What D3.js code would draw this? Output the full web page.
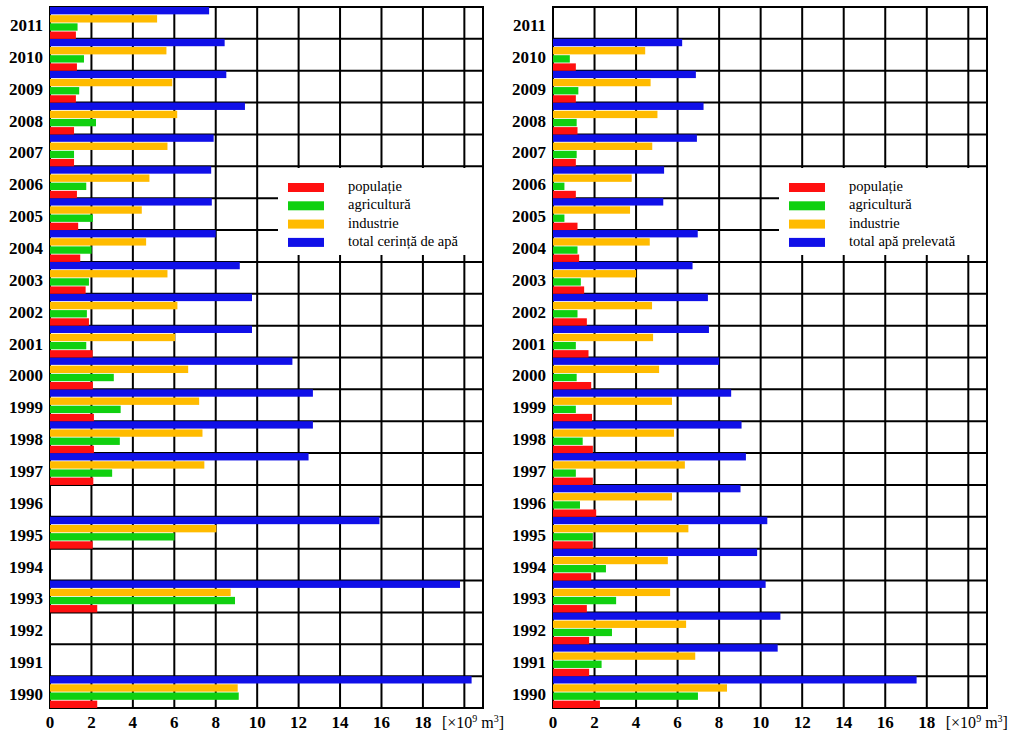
<html>
<head>
<meta charset="utf-8">
<script src="https://cdn.jsdelivr.net/npm/d3@7"></script>
<style>
body { margin: 0; background: #fff; }
svg text { font-family: "Liberation Serif", "Times New Roman", serif; }
</style>
</head>
<body>
<div id="chart"></div>
<script>
// years, bottom (1990) to top (2011)
var years = [1990,1991,1992,1993,1994,1995,1996,1997,1998,1999,2000,
             2001,2002,2003,2004,2005,2006,2007,2008,2009,2010,2011];

// cerinta de apa [x10^9 m3]
var demPop = [2.28,null,null,2.28,null,2.06,null,2.09,2.12,2.12,2.07,
              2.06,1.88,1.72,1.46,1.36,1.30,1.16,1.16,1.25,1.30,1.25];
var demAgr = [9.11,null,null,8.93,null,6.01,null,3.00,3.37,3.41,3.08,
              1.75,1.78,1.88,2.01,2.07,1.75,1.16,2.22,1.41,1.64,1.33];
var demInd = [9.06,null,null,8.72,null,8.03,null,7.45,7.36,7.20,6.67,
              6.04,6.15,5.67,4.64,4.43,4.80,5.67,6.14,5.90,5.62,5.17];
var demTot = [20.35,null,null,19.79,null,15.90,null,12.48,12.69,12.69,11.70,
              9.75,9.75,9.16,8.00,7.81,7.78,7.90,9.41,8.51,8.43,7.68];

// apa prelevata [x10^9 m3]
var absPop = [2.26,1.74,1.74,1.63,1.84,1.92,2.08,1.92,1.92,1.88,1.84,
              1.71,1.63,1.50,1.26,1.18,1.10,1.10,1.18,1.10,1.10,null];
var absAgr = [6.98,2.34,2.84,3.04,2.55,1.92,1.30,1.10,1.43,1.10,1.14,
              1.10,1.18,1.34,1.18,0.55,0.55,1.14,1.14,1.22,0.81,null];
var absInd = [8.38,6.85,6.41,5.64,5.53,6.52,5.73,6.35,5.83,5.73,5.11,
              4.82,4.77,4.00,4.66,3.71,3.79,4.78,5.03,4.70,4.44,null];
var absTot = [17.51,10.82,10.95,10.24,9.83,10.32,9.03,9.29,9.08,8.58,8.00,
              7.51,7.46,6.72,6.97,5.31,5.35,6.93,7.25,6.88,6.22,null];

var ticks = [0,2,4,6,8,10,12,14,16,18];
var gridTicks = [2,4,6,8,10,12,14,16,18,20];

var keys = ["tot", "ind", "agr", "pop"]; // order within a row, top to bottom
var colors = {pop: "#ff1010", agr: "#10d010", ind: "#ffbb00", tot: "#1010e8"};
var legendKeys = ["pop", "agr", "ind", "tot"];
var demLabels = {pop: "populație", agr: "agricultură", ind: "industrie", tot: "total cerință de apă"};
var absLabels = {pop: "populație", agr: "agricultură", ind: "industrie", tot: "total apă prelevată"};

var W = 1009, H = 735;
var svg = d3.select("#chart").append("svg").attr("width", W).attr("height", H);

var yTop = 7, yBot = 708;

function panel(left, right, series, labels, legBox) {
	var g = svg.append("g");
	var x = d3.scaleLinear().domain([0, 20.9]).range([left, right]);
	var y = d3.scaleBand().domain(years.slice().reverse()).range([yTop, yBot]);
	var yi = d3.scaleBand().domain(keys).range([0, y.bandwidth()]).paddingInner(0.1);

	var rows = years.map(function(yr, i) {
		return {year: yr, pop: series.pop[i], agr: series.agr[i], ind: series.ind[i], tot: series.tot[i]};
	});

	// grid
	g.selectAll("line.v").data(gridTicks).enter().append("line")
		.attr("x1", function(d){return x(d);}).attr("x2", function(d){return x(d);})
		.attr("y1", yTop).attr("y2", yBot)
		.style("stroke", "#000").style("stroke-width", 2);
	g.selectAll("line.h").data(years).enter().append("line")
		.attr("x1", left).attr("x2", right)
		.attr("y1", function(d){return y(d);}).attr("y2", function(d){return y(d);})
		.style("stroke", "#000").style("stroke-width", 2);
	g.append("rect").attr("x", left).attr("y", yTop)
		.attr("width", right - left).attr("height", yBot - yTop)
		.style("fill", "none").style("stroke", "#000").style("stroke-width", 2);

	// bars
	var rg = g.selectAll("g.row").data(rows).enter().append("g")
		.attr("transform", function(d){return "translate(0," + y(d.year) + ")";});
	rg.selectAll("rect").data(function(d){
			return keys.filter(function(k){return d[k] != null;})
				.map(function(k){return {key: k, value: d[k]};});
		}).enter().append("rect")
		.attr("x", x(0))
		.attr("y", function(d){return yi(d.key);})
		.attr("width", function(d){return x(d.value) - x(0);})
		.attr("height", yi.bandwidth())
		.style("fill", function(d){return colors[d.key];});

	// year labels
	g.selectAll("text.year").data(years).enter().append("text")
		.attr("x", left - 7)
		.attr("y", function(d){return y(d) + y.bandwidth() / 2 + 8;})
		.attr("text-anchor", "end")
		.style("font-size", "17px").style("font-weight", "bold")
		.text(function(d){return d;});

	// x tick labels
	g.selectAll("text.tick").data(ticks).enter().append("text")
		.attr("x", function(d){return x(d);})
		.attr("y", 728)
		.attr("text-anchor", "middle")
		.style("font-size", "17px").style("font-weight", "bold")
		.text(function(d){return d;});

	var unit = g.append("text").attr("x", x(18) + 19).attr("y", 728)
		.style("font-size", "16px");
	unit.append("tspan").text("[×10");
	unit.append("tspan").attr("dy", -6).style("font-size", "10px").text("9");
	unit.append("tspan").attr("dy", 6).text(" m");
	unit.append("tspan").attr("dy", -6).style("font-size", "10px").text("3");
	unit.append("tspan").attr("dy", 6).text("]");

	// legend
	var lg = g.append("g").attr("transform", "translate(" + legBox[0] + "," + legBox[1] + ")");
	lg.append("rect").attr("width", legBox[2]).attr("height", legBox[3]).style("fill", "#fff");
	legendKeys.forEach(function(k, i) {
		lg.append("rect").attr("x", 10).attr("y", 15 + i * 18.3)
			.attr("width", 36).attr("height", 9).style("fill", colors[k]);
		lg.append("text").attr("x", 70).attr("y", 23 + i * 18.3)
			.style("font-size", "14.5px").text(labels[k]);
	});
}

panel(50, 483, {pop: demPop, agr: demAgr, ind: demInd, tot: demTot}, demLabels, [278, 168, 204, 87]);
panel(553, 987, {pop: absPop, agr: absAgr, ind: absInd, tot: absTot}, absLabels, [779, 168, 207, 87]);
</script>
</body>
</html>
